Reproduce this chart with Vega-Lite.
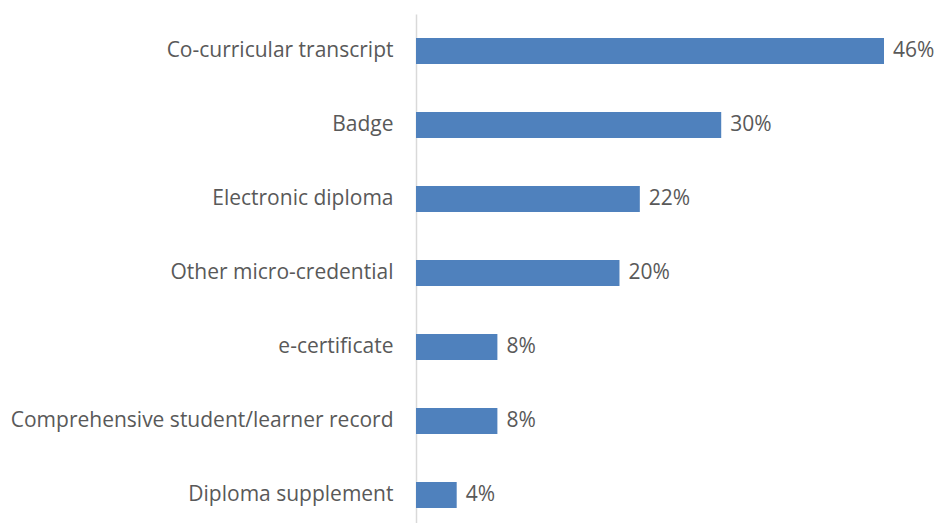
{
  "$schema": "https://vega.github.io/schema/vega-lite/v6.json",
  "autosize": "none",
  "width": 527,
  "height": 518,
  "padding": {"left": 416, "top": 14, "right": 0, "bottom": 0},
  "background": "white",
  "config": {"view": {"stroke": null}, "font": "Open Sans"},
  "data": {"values": [
    {"item": "Co-curricular transcript", "pct": 0.46},
    {"item": "Badge", "pct": 0.30},
    {"item": "Electronic diploma", "pct": 0.22},
    {"item": "Other micro-credential", "pct": 0.20},
    {"item": "e-certificate", "pct": 0.08},
    {"item": "Comprehensive student/learner record", "pct": 0.08},
    {"item": "Diploma supplement", "pct": 0.04}
  ]},
  "encoding": {
    "y": {"field": "item", "type": "nominal", "sort": null,
      "scale": {"paddingInner": 0.65, "paddingOuter": 0.325},
      "axis": {"title": null, "ticks": false, "labelPadding": 23, "labelFontSize": 21, "labelColor": "#595959", "labelFont": "Open Sans", "domainColor": "#D9D9D9", "domainWidth": 1.5, "labelLimit": 0}},
    "x": {"field": "pct", "type": "quantitative", "scale": {"domain": [0, 0.46], "range": [0, 468]}, "axis": null}
  },
  "layer": [
    {"mark": {"type": "bar", "color": "#4F81BD"}},
    {"mark": {"type": "text", "align": "left", "dx": 9, "fontSize": 21, "color": "#595959", "font": "Open Sans"},
     "encoding": {"text": {"field": "pct", "type": "quantitative", "format": ".0%"}}}
  ]
}
